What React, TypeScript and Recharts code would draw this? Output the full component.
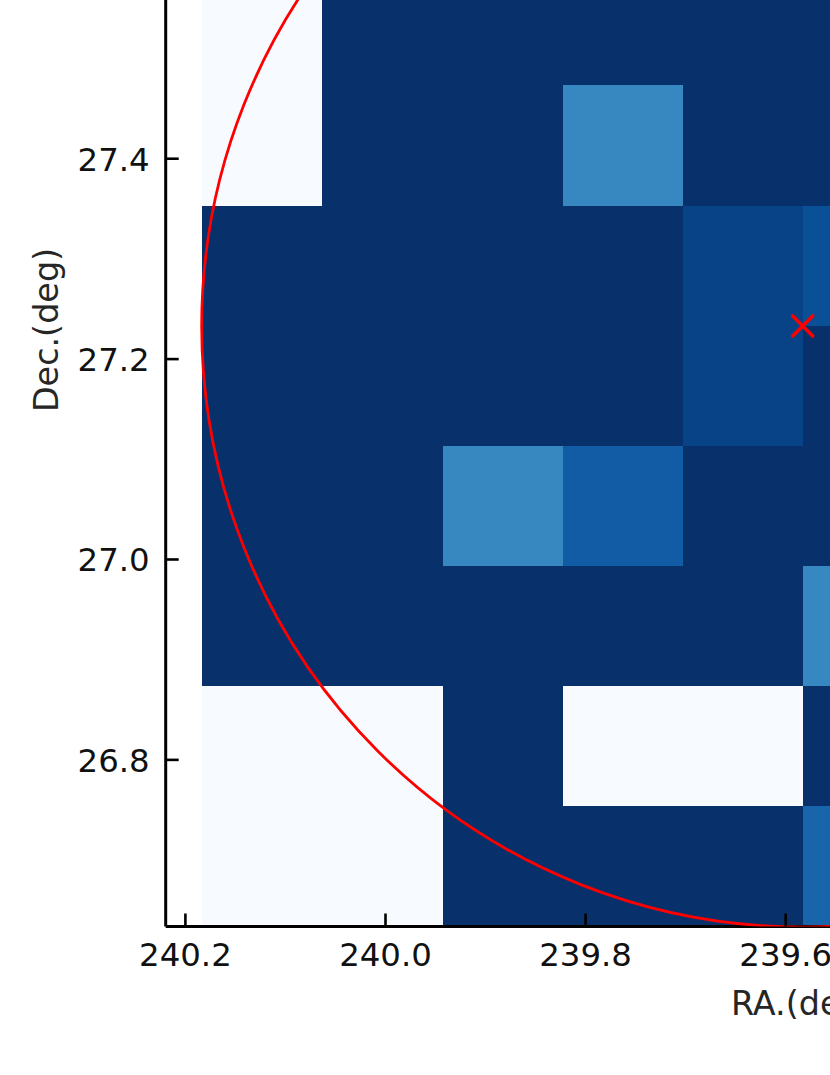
import React from 'react';
import { ComposedChart, XAxis, YAxis, ReferenceArea, ReferenceDot, Scatter } from 'recharts';

// Bin edges (the image runs past the top and right of the frame)
const raEdges = [240.1835, 240.063, 239.943, 239.823, 239.703, 239.583, 239.463];
const decEdges = [27.594, 27.4736, 27.3528, 27.233, 27.1133, 26.9935, 26.8737, 26.754, 26.634];

const raTicks = [240.2, 240.0, 239.8, 239.6];
const decTicks = [27.4, 27.2, 27.0, 26.8];

const raDomain = [239.5557, 240.2197];
const decDomain = [26.6337, 27.5584];

const levelColors = ['#f7fbff', '#08306b', '#3787c0', '#084387', '#0a5096', '#115ca5', '#1865ab'];

// one row per Dec bin, top to bottom; each number indexes levelColors
const row0 = [0, 1, 1, 1, 1, 1];
const row1 = [0, 1, 1, 2, 1, 1];
const row2 = [1, 1, 1, 1, 3, 4];
const row3 = [1, 1, 1, 1, 3, 1];
const row4 = [1, 1, 2, 5, 1, 1];
const row5 = [1, 1, 1, 1, 1, 2];
const row6 = [0, 0, 1, 0, 0, 1];
const row7 = [0, 0, 1, 1, 1, 6];
const rows = [row0, row1, row2, row3, row4, row5, row6, row7];

const center = { ra: 239.583, dec: 27.233 };

const tickFont = { fontFamily: 'DejaVu Sans', fontSize: 32.4, fill: '#111' };
const labelFont = { fontFamily: 'DejaVu Sans', fontSize: 33.4, fill: '#262626' };

// ticks point into the plot, so both are drawn by hand
const XTick = ({ x, y, payload }: any) => (
  <g>
    <line x1={x} x2={x} y1={y} y2={y - 13} stroke="#000" strokeWidth={2.6} />
    <text x={x} y={y + 39.5} textAnchor="middle" {...tickFont}>
      {payload.value.toFixed(1)}
    </text>
  </g>
);

const YTick = ({ x, y, payload }: any) => (
  <g>
    <line x1={x} x2={x + 13} y1={y} y2={y} stroke="#000" strokeWidth={2.6} />
    <text x={x - 16} y={y + 12} textAnchor="end" {...tickFont}>
      {payload.value.toFixed(1)}
    </text>
  </g>
);

const CrossMark = ({ cx, cy }: any) => (
  <g stroke="#ff0000" strokeWidth={3.6} strokeLinecap="round">
    <line x1={cx - 10} x2={cx + 10} y1={cy - 10} y2={cy + 10} />
    <line x1={cx - 10} x2={cx + 10} y1={cy + 10} y2={cy - 10} />
  </g>
);

export default function App() {
  return (
    <div style={{ position: 'absolute', left: 0, top: 0, width: 830, height: 1075, overflow: 'hidden', background: '#fff' }}>
      <ComposedChart width={830} height={1075} margin={{ top: 0, right: 0, bottom: 0, left: 0 }}>
        <XAxis
          type="number"
          dataKey="ra"
          reversed
          domain={raDomain}
          allowDataOverflow
          ticks={raTicks}
          interval={0}
          height={148.5}
          tick={XTick}
          tickLine={false}
          tickSize={0}
          tickMargin={0}
          axisLine={{ stroke: '#000', strokeWidth: 3 }}
          label={() => (
            <text x={731} y={1015} {...labelFont}>
              RA.(deg)
            </text>
          )}
        />
        <YAxis
          type="number"
          dataKey="dec"
          domain={decDomain}
          allowDataOverflow
          ticks={decTicks}
          interval={0}
          width={165.7}
          tick={YTick}
          tickLine={false}
          tickSize={0}
          tickMargin={0}
          axisLine={{ stroke: '#000', strokeWidth: 3 }}
          label={() => (
            <text x={58} y={330} textAnchor="middle" transform="rotate(-90 58 330)" {...labelFont}>
              Dec.(deg)
            </text>
          )}
        />
        {rows.map((row, r) =>
          row.map((level, c) => (
            <ReferenceArea
              key={`${r}-${c}`}
              x1={raEdges[c]}
              x2={raEdges[c + 1]}
              y1={decEdges[r]}
              y2={decEdges[r + 1]}
              fill={levelColors[level]}
              fillOpacity={1}
              stroke="none"
              shapeRendering="crispEdges"
              ifOverflow="hidden"
            />
          ))
        )}
        <ReferenceDot
          x={center.ra}
          y={center.dec}
          r={601}
          fill="none"
          stroke="#ff0000"
          strokeWidth={2.8}
          ifOverflow="hidden"
        />
        <Scatter data={[center]} dataKey="dec" shape={CrossMark} isAnimationActive={false} />
      </ComposedChart>
    </div>
  );
}
